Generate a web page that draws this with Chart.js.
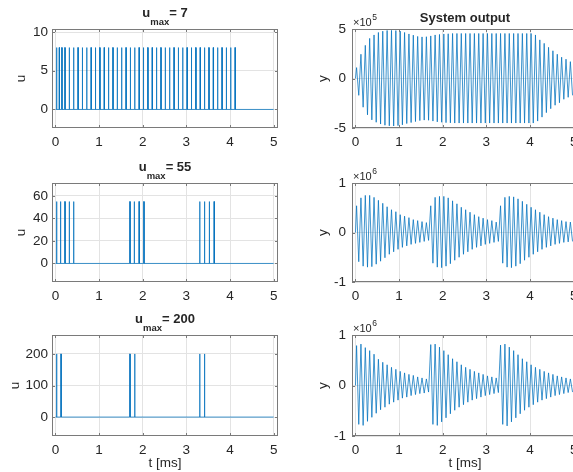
<!DOCTYPE html>
<html>
<head>
<meta charset="utf-8">
<script src="https://cdn.jsdelivr.net/npm/chart.js@4/dist/chart.umd.min.js"></script>
<style>
  html, body { margin: 0; padding: 0; background: #fff; }
  body { position: relative; width: 573px; height: 472px; overflow: hidden; }
  canvas { position: absolute; }
</style>
</head>
<body>
<script>
// time axis (ms)
const tTicks = [0, 1, 2, 3, 4, 5];
const tRange = [-0.08, 5.1];
const tEnd = 5;
const pulseWidth = 0.012;

// control input u, pulse start times
const pulses7 = [0.02, 0.08, 0.14, 0.21, 0.31, 0.41, 0.51, 0.61, 0.71, 0.81, 0.91, 1.01, 1.11, 1.21, 1.31,
  1.41, 1.51, 1.61, 1.71, 1.81, 1.91, 2.01, 2.11, 2.21, 2.31, 2.41, 2.51, 2.61, 2.71, 2.81, 2.91,
  3.01, 3.11, 3.21, 3.31, 3.41, 3.51, 3.61, 3.71, 3.81, 3.91, 4.01, 4.11];
const level7 = 8;
const uTicks7 = [0, 5, 10];
const uRange7 = [-2.4, 10.4];

const pulses55 = [0.02, 0.11, 0.21, 0.31, 0.41, 1.70, 1.80, 1.91, 2.02, 3.30, 3.41, 3.52, 3.63];
const level55 = 55;
const uTicks55 = [0, 20, 40, 60];
const uRange55 = [-16.5, 71.5];

const pulses200 = [0.02, 0.12, 1.70, 1.81, 3.30, 3.41];
const level200 = 200;
const uTicks200 = [0, 100, 200];
const uRange200 = [-60, 260];

// system output y: one max and one min per oscillation cycle
const firstPeak = 0.025;
const period = 0.1;

// x 10^5
const yMax7 = [1.1, 2.45, 3.35, 4.05, 4.4, 4.65, 4.78, 4.85, 4.86, 4.84, 4.78, 4.65, 4.5, 4.38, 4.25, 4.2,
  4.22, 4.3, 4.4, 4.45, 4.5, 4.52, 4.55, 4.55, 4.55, 4.55, 4.55, 4.55, 4.55, 4.55, 4.55, 4.55, 4.55,
  4.55, 4.55, 4.55, 4.55, 4.55, 4.55, 4.55, 4.55, 4.4, 3.9, 3.55, 3.15, 2.8, 2.45, 2.15, 1.95, 1.7];
const yMin7 = [-1.7, -2.9, -3.67, -4.18, -4.42, -4.6, -4.72, -4.78, -4.8, -4.76, -4.68, -4.55, -4.45, -4.35,
  -4.25, -4.2, -4.22, -4.3, -4.38, -4.42, -4.46, -4.48, -4.5, -4.5, -4.5, -4.5, -4.5, -4.5, -4.5, -4.5,
  -4.5, -4.5, -4.5, -4.5, -4.5, -4.5, -4.5, -4.5, -4.5, -4.5, -4.5, -4.3, -3.9, -3.45, -3.05, -2.7,
  -2.45, -2.1, -1.9, -1.7];
const yExp7 = 5;
const yTicks7 = [-5, 0, 5];
const yRange7 = [-5, 5];

// x 10^6
const yMax55 = [0.54, 0.70, 0.75, 0.75, 0.71, 0.65, 0.59, 0.52, 0.46, 0.42, 0.36, 0.33, 0.30, 0.26, 0.24, 0.22, 0.20,
  0.54, 0.71, 0.73, 0.73, 0.70, 0.64, 0.58, 0.51, 0.46, 0.41, 0.36, 0.32, 0.29, 0.26, 0.24, 0.21,
  0.54, 0.71, 0.73, 0.72, 0.68, 0.63, 0.57, 0.51, 0.46, 0.41, 0.36, 0.32, 0.29, 0.26, 0.24, 0.22, 0.21];
const yMin55 = [-0.59, -0.68, -0.70, -0.69, -0.64, -0.58, -0.51, -0.44, -0.39, -0.34, -0.30, -0.27, -0.24, -0.22, -0.20, -0.18, -0.16,
  -0.62, -0.70, -0.71, -0.68, -0.63, -0.56, -0.50, -0.44, -0.39, -0.34, -0.30, -0.27, -0.24, -0.22, -0.20, -0.18,
  -0.62, -0.70, -0.71, -0.68, -0.63, -0.56, -0.50, -0.44, -0.39, -0.34, -0.30, -0.27, -0.24, -0.22, -0.20, -0.19, -0.18];
const yExp55 = 6;

const yMax200 = [0.79, 0.82, 0.75, 0.69, 0.62, 0.52, 0.46, 0.41, 0.36, 0.32, 0.28, 0.25, 0.22, 0.20, 0.17, 0.15, 0.13,
  0.81, 0.82, 0.76, 0.69, 0.61, 0.53, 0.47, 0.41, 0.36, 0.32, 0.28, 0.25, 0.22, 0.19, 0.17, 0.15,
  0.80, 0.82, 0.76, 0.69, 0.61, 0.53, 0.47, 0.41, 0.36, 0.32, 0.28, 0.25, 0.22, 0.19, 0.17, 0.15, 0.13];
const yMin200 = [-0.77, -0.79, -0.71, -0.63, -0.55, -0.48, -0.43, -0.37, -0.33, -0.29, -0.25, -0.23, -0.20, -0.18, -0.16, -0.15, -0.13,
  -0.77, -0.79, -0.72, -0.64, -0.56, -0.49, -0.43, -0.38, -0.33, -0.29, -0.26, -0.23, -0.20, -0.18, -0.16, -0.14,
  -0.77, -0.80, -0.72, -0.64, -0.56, -0.49, -0.43, -0.38, -0.33, -0.29, -0.26, -0.23, -0.20, -0.18, -0.16, -0.14, -0.13];
const yExp200 = 6;
const yTicksE6 = [-1, 0, 1];
const yRangeE6 = [-1, 1];

function pulseTrain(times, level) {
  const pts = [{x: 0, y: 0}];
  times.forEach(t => {
    pts.push({x: t, y: 0}, {x: t, y: level}, {x: t + pulseWidth, y: level}, {x: t + pulseWidth, y: 0});
  });
  pts.push({x: tEnd, y: 0});
  return pts;
}

function oscillation(maxs, mins) {
  const pts = [{x: 0, y: 0}];
  maxs.forEach((m, k) => {
    pts.push({x: firstPeak + k * period, y: m});
    pts.push({x: firstPeak + period / 2 + k * period, y: mins[k]});
  });
  return pts;
}

const FONT = '"Liberation Sans", Arial, Helvetica, sans-serif';
const TXT = '#262626';
const GRID = '#e3e3e3';
const BOX = '#7a7a7a';

// plot-area layout in page pixels
const PAD_L = 52, PAD_T = 36, PAD_R = 12, PAD_B = 46, PLOT_W = 226;

const matlabLook = {
  id: 'matlabLook',
  afterDraw(chart, args, o) {
    const {ctx, chartArea: a} = chart;
    ctx.save();
    // inward tick marks
    ctx.strokeStyle = BOX;
    ctx.lineWidth = 1;
    ctx.beginPath();
    chart.scales.x.ticks.forEach(t => {
      const px = Math.round(chart.scales.x.getPixelForValue(t.value)) + 0.5;
      ctx.moveTo(px, a.bottom); ctx.lineTo(px, a.bottom - 3);
      ctx.moveTo(px, a.top); ctx.lineTo(px, a.top + 3);
    });
    chart.scales.y.ticks.forEach(t => {
      const py = Math.round(chart.scales.y.getPixelForValue(t.value)) + 0.5;
      ctx.moveTo(a.left, py); ctx.lineTo(a.left + 3, py);
      ctx.moveTo(a.right, py); ctx.lineTo(a.right - 3, py);
    });
    ctx.stroke();
    // box
    ctx.strokeRect(a.left + 0.5, a.top + 0.5, a.width - 1, a.height - 1);

    ctx.fillStyle = TXT;
    const cx = (a.left + a.right) / 2;
    // title with subscript
    if (o.title) {
      const [main, sub, rest] = o.title;
      const big = 'bold 13px ' + FONT, small = 'bold 9.5px ' + FONT;
      ctx.font = big; const w1 = ctx.measureText(main).width, w3 = ctx.measureText(rest).width;
      ctx.font = small; const w2 = ctx.measureText(sub).width;
      let x = cx - (w1 + w2 + w3) / 2;
      ctx.textAlign = 'left'; ctx.textBaseline = 'alphabetic';
      ctx.font = big; ctx.fillText(main, x, a.top - 12); x += w1;
      ctx.font = small; ctx.fillText(sub, x, a.top - 4.5); x += w2;
      ctx.font = big; ctx.fillText(rest, x, a.top - 12);
    }
    if (o.plainTitle) {
      ctx.font = 'bold 13px ' + FONT;
      ctx.textAlign = 'center'; ctx.textBaseline = 'alphabetic';
      ctx.fillText(o.plainTitle, cx, a.top - 7);
    }
    // exponent label
    if (o.exp) {
      ctx.textAlign = 'left'; ctx.textBaseline = 'alphabetic';
      ctx.font = '11px ' + FONT;
      const base = '\u00d710';
      ctx.fillText(base, a.left + 1, a.top - 3.5);
      const w = ctx.measureText(base).width;
      ctx.font = '8.5px ' + FONT;
      ctx.fillText(String(o.exp), a.left + 1 + w + 0.5, a.top - 9.5);
    }
    // y label
    if (o.ylabel) {
      ctx.save();
      ctx.translate(o.ylabelX, (a.top + a.bottom) / 2);
      ctx.rotate(-Math.PI / 2);
      ctx.font = '13.5px ' + FONT;
      ctx.textAlign = 'center'; ctx.textBaseline = 'alphabetic';
      ctx.fillText(o.ylabel, 0, 0);
      ctx.restore();
    }
    // x label
    if (o.xlabel) {
      ctx.font = '13.5px ' + FONT;
      ctx.textAlign = 'center'; ctx.textBaseline = 'alphabetic';
      ctx.fillText(o.xlabel, cx, a.bottom + 31);
    }
    ctx.restore();
  }
};

const panels = [
  {x: 52, y: 29, h: 99, data: pulseTrain(pulses7, level7), ticks: uTicks7, range: uRange7, tickPad: 4,
    look: {title: ['u', 'max', '= 7'], ylabel: 'u', ylabelX: 25}},
  {x: 352, y: 29, h: 99, data: oscillation(yMax7, yMin7), ticks: yTicks7, range: yRange7, tickPad: 6,
    look: {plainTitle: 'System output', exp: yExp7, ylabel: 'y', ylabelX: 27}},
  {x: 52, y: 183, h: 99, data: pulseTrain(pulses55, level55), ticks: uTicks55, range: uRange55, tickPad: 4,
    look: {title: ['u', 'max', '= 55'], ylabel: 'u', ylabelX: 25}},
  {x: 352, y: 183, h: 99, data: oscillation(yMax55, yMin55), ticks: yTicksE6, range: yRangeE6, tickPad: 6,
    look: {exp: yExp55, ylabel: 'y', ylabelX: 27}},
  {x: 52, y: 335, h: 101, data: pulseTrain(pulses200, level200), ticks: uTicks200, range: uRange200, tickPad: 4,
    look: {title: ['u', 'max', '= 200'], ylabel: 'u', ylabelX: 19, xlabel: 't [ms]'}},
  {x: 352, y: 335, h: 101, data: oscillation(yMax200, yMin200), ticks: yTicksE6, range: yRangeE6, tickPad: 6,
    look: {exp: yExp200, ylabel: 'y', ylabelX: 27, xlabel: 't [ms]'}}
];

panels.forEach(p => {
  const cv = document.createElement('canvas');
  cv.width = PAD_L + PLOT_W + PAD_R;
  cv.height = PAD_T + p.h + PAD_B;
  cv.style.left = (p.x - PAD_L) + 'px';
  cv.style.top = (p.y - PAD_T) + 'px';
  document.body.appendChild(cv);

  new Chart(cv, {
    type: 'line',
    data: {
      datasets: [{
        data: p.data,
        borderColor: '#0072BD',
        borderWidth: 0.75,
        pointRadius: 0,
        tension: 0,
        fill: false
      }]
    },
    options: {
      responsive: false,
      animation: false,
      events: [],
      layout: { padding: { left: 0, top: PAD_T, right: PAD_R, bottom: 0 } },
      plugins: {
        legend: { display: false },
        tooltip: { enabled: false },
        matlabLook: p.look
      },
      scales: {
        x: {
          type: 'linear',
          min: tRange[0],
          max: tRange[1],
          afterBuildTicks: s => { s.ticks = tTicks.map(v => ({ value: v })); },
          afterFit: s => { s.height = PAD_B; },
          grid: { color: GRID, drawTicks: false },
          border: { display: false },
          ticks: { padding: 6, color: TXT, maxRotation: 0, font: { family: FONT, size: 13.5 }, callback: v => String(v) }
        },
        y: {
          min: p.range[0],
          max: p.range[1],
          afterBuildTicks: s => { s.ticks = p.ticks.map(v => ({ value: v })); },
          afterFit: s => { s.width = PAD_L; },
          grid: { color: GRID, drawTicks: false },
          border: { display: false },
          ticks: { padding: p.tickPad, color: TXT, font: { family: FONT, size: 13.5 }, callback: v => String(v) }
        }
      }
    },
    plugins: [matlabLook]
  });
});
</script>
</body>
</html>
